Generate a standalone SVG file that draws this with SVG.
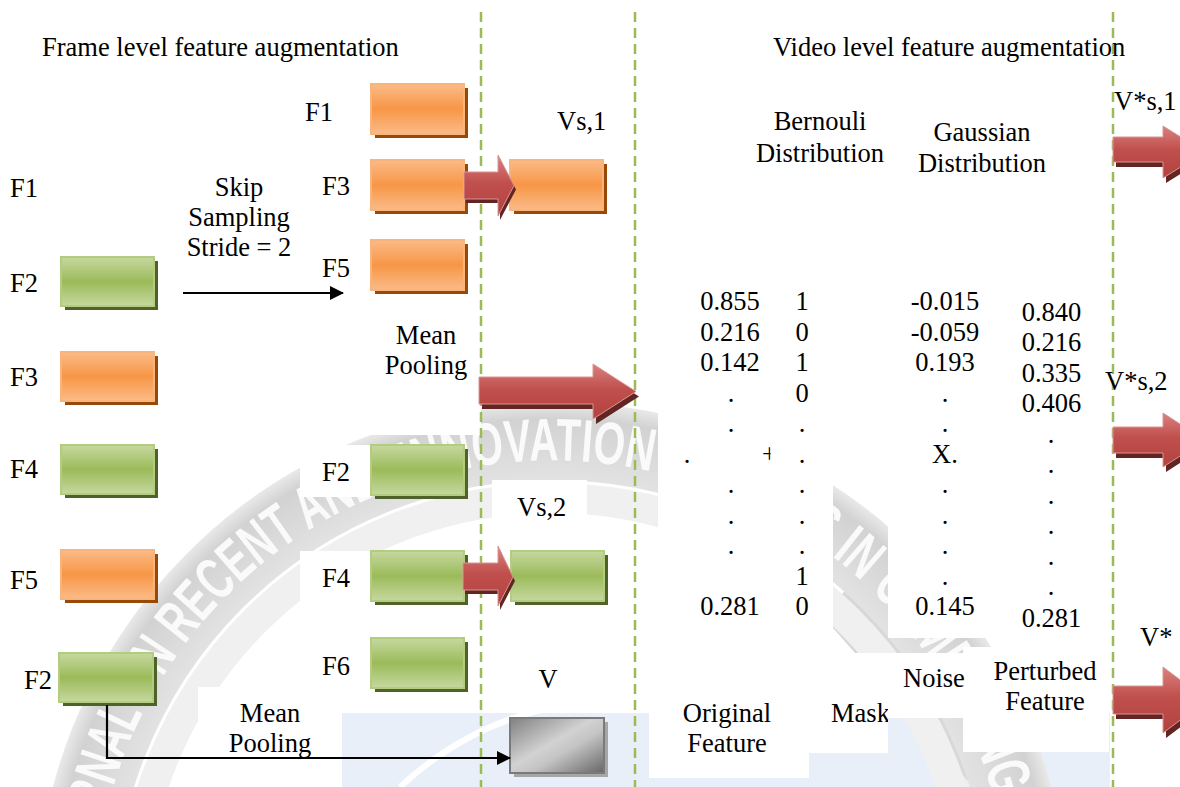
<svg xmlns="http://www.w3.org/2000/svg" width="1180" height="787" viewBox="0 0 1180 787">
<style>
.t{font-family:"Liberation Serif","Times New Roman",serif;font-size:26.5px;fill:#000}
.m{text-anchor:middle}
.wm{font-family:"Liberation Sans",Arial,sans-serif;font-weight:bold;font-size:60px;fill:#fafafa}
.dash{stroke:#9bbb59;stroke-width:2.5;stroke-dasharray:10 6;fill:none}
.or{fill:url(#gOr);stroke:#f9b47c;stroke-width:2}
.ors{fill:#984807}
.gr{fill:url(#gGr);stroke:#b3cc80;stroke-width:2}
.grs{fill:#4f6228}
.ar{fill:url(#gRed);stroke:#d99694;stroke-width:1}
.ars{fill:#632523}
.wb{fill:#fff}
.ln{stroke:#000;stroke-width:2.2;fill:none}
</style>
<defs>
<linearGradient id="gOr" x1="0" y1="0" x2="0" y2="1">
<stop offset="0" stop-color="#fbbb88"/><stop offset="0.5" stop-color="#f79646"/><stop offset="1" stop-color="#fbbb88"/>
</linearGradient>
<linearGradient id="gGr" x1="0" y1="0" x2="0" y2="1">
<stop offset="0" stop-color="#c6d8a0"/><stop offset="0.5" stop-color="#9bbb59"/><stop offset="1" stop-color="#c6d8a0"/>
</linearGradient>
<linearGradient id="gRed" x1="0" y1="0" x2="0" y2="1">
<stop offset="0" stop-color="#d98280"/><stop offset="0.45" stop-color="#c0504d"/><stop offset="1" stop-color="#b3423f"/>
</linearGradient>
<linearGradient id="gGray" x1="0" y1="0" x2="1" y2="1">
<stop offset="0" stop-color="#808080"/><stop offset="0.45" stop-color="#d2d2d2"/><stop offset="0.6" stop-color="#c4c4c4"/><stop offset="1" stop-color="#666"/>
</linearGradient>
<radialGradient id="gRing" gradientUnits="userSpaceOnUse" cx="552" cy="918" r="520">
<stop offset="0.83" stop-color="#e4e4e4"/><stop offset="0.96" stop-color="#d2d2d2"/><stop offset="1" stop-color="#eeeeee"/>
</radialGradient>
<marker id="ah" markerWidth="14" markerHeight="14" refX="13" refY="7" orient="auto" markerUnits="userSpaceOnUse">
<path d="M0,0 L14,7 L0,14 Z" fill="#000"/>
</marker>
<clipPath id="c4"><rect x="990" y="350" width="92" height="70"/></clipPath>
<clipPath id="cPlus"><rect x="755" y="440" width="15.5" height="30"/></clipPath>
<clipPath id="cMask"><rect x="820" y="690" width="68" height="45"/></clipPath>
<path id="ringPath" d="M 95.7 957.9 A 458 458 0 1 1 1008.3 957.9"/>
</defs>
<rect width="1180" height="787" fill="#fff"/>

<g id="watermark">
<rect x="342" y="713" width="768" height="74" fill="#e9eff8"/>
<path d="M400 787 Q 470 722 560 706" stroke="#fff" stroke-width="6" fill="none"/>
<path d="M835 600 L 1000 787" stroke="#d8d8d8" stroke-width="40" fill="none"/>
<circle cx="552" cy="918" r="420" fill="none" stroke="#f0f0f0" stroke-width="30"/>
<circle cx="552" cy="918" r="477" fill="none" stroke="url(#gRing)" stroke-width="78"/>
<text class="wm"><textPath href="#ringPath" startOffset="65" textLength="521" lengthAdjust="spacingAndGlyphs">JOURNAL ON RECENT AND</textPath></text>
<text class="wm"><textPath href="#ringPath" startOffset="611" textLength="248" lengthAdjust="spacingAndGlyphs">INNOVATION</textPath></text>
<text class="wm"><textPath href="#ringPath" startOffset="884" textLength="471" lengthAdjust="spacingAndGlyphs">TRENDS IN COMPUTING</textPath></text>
</g>

<g id="textboxes">
<rect class="wb" x="371" y="300" width="110" height="135"/>
<rect class="wb" x="300" y="445" width="71" height="52"/>
<rect class="wb" x="300" y="551" width="71" height="51"/>
<rect class="wb" x="492" y="480" width="95" height="40"/>
<rect class="wb" x="198" y="687" width="143" height="100"/>
<rect class="wb" x="658" y="280" width="175" height="410"/>
<rect class="wb" x="649" y="687" width="160" height="91"/>
<rect class="wb" x="790" y="653" width="98" height="100"/>
<rect class="wb" x="888" y="280" width="112" height="358"/>
<rect class="wb" x="878" y="653" width="86" height="65"/>
<rect class="wb" x="1000" y="295" width="110" height="355"/>
<rect class="wb" x="963" y="647" width="146" height="105"/>
</g>

<g id="dividers">
<line class="dash" x1="481" y1="12" x2="481" y2="787"/>
<line class="dash" x1="635" y1="12" x2="635" y2="787"/>
<line class="dash" x1="1113" y1="12" x2="1113" y2="787"/>
</g>

<g id="titles">
<text class="t" x="42" y="56">Frame level feature augmentation</text>
<text class="t" x="773" y="56">Video level feature augmentation</text>
</g>

<g id="input-frames">
<text class="t" x="10" y="197">F1</text>
<text class="t" x="10" y="292">F2</text>
<rect class="grs" x="65" y="261" width="93" height="49"/><rect class="gr" x="61" y="257" width="93" height="49"/>
<text class="t" x="10" y="386">F3</text>
<rect class="ors" x="65" y="356" width="93" height="49"/><rect class="or" x="61" y="352" width="93" height="49"/>
<text class="t" x="10" y="478">F4</text>
<rect class="grs" x="65" y="449" width="93" height="49"/><rect class="gr" x="61" y="445" width="93" height="49"/>
<text class="t" x="10" y="589">F5</text>
<rect class="ors" x="65" y="554" width="93" height="49"/><rect class="or" x="61" y="550" width="93" height="49"/>
<text class="t" x="24" y="689">F2</text>
<rect class="grs" x="63" y="657" width="94" height="49"/><rect class="gr" x="59" y="653" width="94" height="49"/>
</g>

<g id="skip-label">
<text class="t m" x="239" y="196">Skip</text>
<text class="t m" x="239" y="226">Sampling</text>
<text class="t m" x="239" y="256">Stride = 2</text>
</g>

<g id="odd-frames">
<text class="t" x="305" y="121">F1</text>
<rect class="ors" x="375" y="88" width="93" height="50"/><rect class="or" x="371" y="84" width="93" height="50"/>
<text class="t" x="322" y="195">F3</text>
<rect class="ors" x="375" y="164" width="93" height="50"/><rect class="or" x="371" y="160" width="93" height="50"/>
<text class="t" x="322" y="277">F5</text>
<rect class="ors" x="375" y="244" width="93" height="50"/><rect class="or" x="371" y="240" width="93" height="50"/>
</g>

<g id="even-frames">
<text class="t" x="322" y="481">F2</text>
<rect class="grs" x="375" y="449" width="93" height="50"/><rect class="gr" x="371" y="445" width="93" height="50"/>
<text class="t" x="322" y="587">F4</text>
<rect class="grs" x="375" y="555" width="93" height="50"/><rect class="gr" x="371" y="551" width="93" height="50"/>
<text class="t" x="322" y="675">F6</text>
<rect class="grs" x="375" y="642" width="93" height="50"/><rect class="gr" x="371" y="638" width="93" height="50"/>
</g>

<g id="mean-pooling-mid">
<text class="t m" x="426" y="344">Mean</text>
<text class="t m" x="426" y="374">Pooling</text>
</g>

<g id="mean-pooling-bottom">
<text class="t m" x="270" y="722">Mean</text>
<text class="t m" x="270" y="752">Pooling</text>
</g>

<g id="vs1">
<text class="t" x="557" y="130">Vs,1</text>
<rect class="ors" x="514" y="164" width="93" height="50"/><rect class="or" x="510" y="160" width="93" height="50"/>
</g>

<g id="vs2">
<text class="t" x="517" y="516">Vs,2</text>
<rect class="grs" x="515" y="555" width="93" height="50"/><rect class="gr" x="511" y="551" width="93" height="50"/>
</g>

<g id="v">
<text class="t m" x="548" y="688">V</text>
<rect x="514" y="722" width="94" height="55" fill="#a6a6a6"/>
<rect x="510" y="718" width="94" height="55" fill="url(#gGray)" stroke="#7a7a7a" stroke-width="2"/>
</g>

<g id="connectors">
<line class="ln" x1="183" y1="293" x2="343" y2="293" marker-end="url(#ah)"/>
<path class="ln" d="M107 705 V758 H510" marker-end="url(#ah)"/>
<polygon class="ars" transform="translate(3,5)" points="479,377 593,377 593,364 636,391.5 593,419 593,404 479,404"/>
<polygon class="ar" points="479,377 593,377 593,364 636,391.5 593,419 593,404 479,404"/>
<polygon class="ars" transform="translate(2,4)" points="464,172 498,172 498,155 514,185.5 498,216 498,199 464,199"/>
<polygon class="ar" points="464,172 498,172 498,155 514,185.5 498,216 498,199 464,199"/>
<polygon class="ars" transform="translate(2,4)" points="463,563 498,563 498,546 513,577 498,606 498,590 463,590"/>
<polygon class="ar" points="463,563 498,563 498,546 513,577 498,606 498,590 463,590"/>
<polygon class="ars" transform="translate(3,5)" points="1113,137 1163,137 1163,126 1205,152 1163,178 1163,162 1113,162"/>
<polygon class="ar" points="1113,137 1163,137 1163,126 1205,152 1163,178 1163,162 1113,162"/>
<polygon class="ars" transform="translate(3,5)" points="1113,427 1163,427 1163,413 1205,440 1163,467 1163,453 1113,453"/>
<polygon class="ar" points="1113,427 1163,427 1163,413 1205,440 1163,467 1163,453 1113,453"/>
<polygon class="ars" transform="translate(3,5)" points="1113,686 1163,686 1163,667 1207,700 1163,733 1163,714 1113,714"/>
<polygon class="ar" points="1113,686 1163,686 1163,667 1207,700 1163,733 1163,714 1113,714"/>
</g>

<g id="distributions">
<text class="t m" x="820" y="130">Bernouli</text>
<text class="t m" x="820" y="162">Distribution</text>
<text class="t m" x="982" y="141">Gaussian</text>
<text class="t m" x="982" y="172">Distribution</text>
</g>

<g id="original-feature">
<text class="t m" x="730" y="310">0.855</text>
<text class="t m" x="730" y="340.5">0.216</text>
<text class="t m" x="730" y="371">0.142</text>
<text class="t m" x="731" y="401.5">.</text>
<text class="t m" x="731" y="432">.</text>
<text class="t m" x="687" y="462.5">.</text>
<text class="t m" x="769.5" y="462.5" clip-path="url(#cPlus)">+</text>
<text class="t m" x="731" y="493">.</text>
<text class="t m" x="731" y="523.5">.</text>
<text class="t m" x="731" y="554">.</text>
<text class="t m" x="730" y="615">0.281</text>
<text class="t m" x="727" y="722">Original</text>
<text class="t m" x="727" y="752">Feature</text>
</g>

<g id="mask">
<text class="t m" x="802" y="310">1</text>
<text class="t m" x="802" y="340.5">0</text>
<text class="t m" x="802" y="371">1</text>
<text class="t m" x="802" y="401.5">0</text>
<text class="t m" x="802" y="432">.</text>
<text class="t m" x="802" y="462.5">.</text>
<text class="t m" x="802" y="493">.</text>
<text class="t m" x="802" y="523.5">.</text>
<text class="t m" x="802" y="554">.</text>
<text class="t m" x="802" y="584.5">1</text>
<text class="t m" x="802" y="615">0</text>
<text class="t" x="831" y="722" clip-path="url(#cMask)">Mask</text>
</g>

<g id="noise">
<text class="t m" x="945" y="310">-0.015</text>
<text class="t m" x="945" y="340.5">-0.059</text>
<text class="t m" x="945" y="371">0.193</text>
<text class="t m" x="945" y="401.5">.</text>
<text class="t m" x="945" y="432">.</text>
<text class="t m" x="945" y="462.5">X.</text>
<text class="t m" x="945" y="493">.</text>
<text class="t m" x="945" y="523.5">.</text>
<text class="t m" x="945" y="554">.</text>
<text class="t m" x="945" y="584.5">.</text>
<text class="t m" x="945" y="615">0.145</text>
<text class="t" x="903" y="687">Noise</text>
</g>

<g id="perturbed-feature">
<text class="t m" x="1051.5" y="320.5">0.840</text>
<text class="t m" x="1051.5" y="351">0.216</text>
<text class="t m" x="1051.5" y="381.5" clip-path="url(#c4)">0.335</text>
<text class="t m" x="1051.5" y="412" clip-path="url(#c4)">0.406</text>
<text class="t m" x="1051" y="442.5">.</text>
<text class="t m" x="1051" y="473">.</text>
<text class="t m" x="1051" y="503.5">.</text>
<text class="t m" x="1051" y="534">.</text>
<text class="t m" x="1051" y="564.5">.</text>
<text class="t m" x="1051" y="595">.</text>
<text class="t m" x="1051.5" y="627">0.281</text>
<text class="t m" x="1045" y="680">Perturbed</text>
<text class="t m" x="1045" y="710">Feature</text>
</g>

<g id="outputs">
<text class="t" x="1114" y="110">V*s,1</text>
<text class="t" x="1105" y="390">V*s,2</text>
<text class="t" x="1140" y="646">V*</text>
</g>
</svg>
